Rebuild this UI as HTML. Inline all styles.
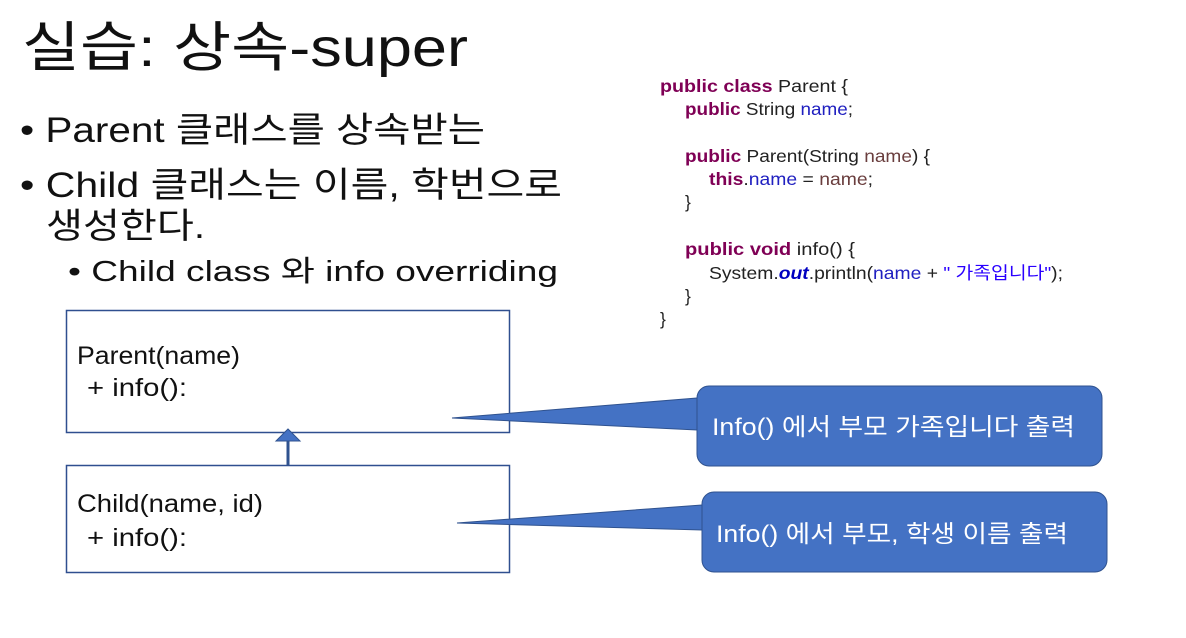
<!DOCTYPE html>
<html><head><meta charset="utf-8"><style>
body{margin:0;width:1186px;height:638px;background:#fff;overflow:hidden}
svg{display:block}
.k{font-family:"Liberation Sans","Noto Sans CJK KR",sans-serif}
</style></head><body>
<svg width="1186" height="638" xmlns="http://www.w3.org/2000/svg">
<rect width="1186" height="638" fill="#fff"/>
<g class="k" fill="#111" lengthAdjust="spacingAndGlyphs">
<text x="22" y="66" font-size="54" textLength="446" lengthAdjust="spacingAndGlyphs">실습: 상속-super</text>
<text x="20" y="142" font-size="35" textLength="465" lengthAdjust="spacingAndGlyphs">• Parent 클래스를 상속받는</text>
<text x="20" y="197" font-size="35" textLength="542" lengthAdjust="spacingAndGlyphs">• Child 클래스는 이름, 학번으로</text>
<text x="46" y="238" font-size="35" textLength="159" lengthAdjust="spacingAndGlyphs">생성한다.</text>
<text x="68" y="281" font-size="29" textLength="490" lengthAdjust="spacingAndGlyphs">•   Child  class 와  info overriding</text>
</g>
<g class="k" font-size="17.5" fill="#222">
<text x="660" y="92" textLength="188" lengthAdjust="spacingAndGlyphs"><tspan fill="#7f0055" font-weight="bold">public class</tspan> Parent {</text>
<text x="685" y="115" textLength="168" lengthAdjust="spacingAndGlyphs"><tspan fill="#7f0055" font-weight="bold">public</tspan> String <tspan fill="#2020c0">name</tspan>;</text>
<text x="685" y="162" textLength="245" lengthAdjust="spacingAndGlyphs"><tspan fill="#7f0055" font-weight="bold">public</tspan> Parent(String <tspan fill="#6a3e3e">name</tspan>) {</text>
<text x="709" y="185" textLength="164" lengthAdjust="spacingAndGlyphs"><tspan fill="#7f0055" font-weight="bold">this</tspan>.<tspan fill="#2020c0">name</tspan> = <tspan fill="#6a3e3e">name</tspan>;</text>
<text x="685" y="208">}</text>
<text x="685" y="255" textLength="170" lengthAdjust="spacingAndGlyphs"><tspan fill="#7f0055" font-weight="bold">public void</tspan> info() {</text>
<text x="709" y="279" textLength="354" lengthAdjust="spacingAndGlyphs">System.<tspan fill="#0000c0" font-weight="bold" font-style="italic">out</tspan>.println(<tspan fill="#2020c0">name</tspan> + <tspan fill="#2a00ff">" 가족입니다"</tspan>);</text>
<text x="685" y="302">}</text>
<text x="660" y="325">}</text>
</g>
<rect x="66.5" y="310.5" width="443" height="122" fill="#fff" stroke="#2f4f8f" stroke-width="1.5"/>
<rect x="66.5" y="465.5" width="443" height="107" fill="#fff" stroke="#2f4f8f" stroke-width="1.5"/>
<line x1="288" y1="465" x2="288" y2="440" stroke="#2f528f" stroke-width="3"/>
<polygon points="276,441 300,441 288,429" fill="#4472c4" stroke="#2f528f"/>
<g class="k" font-size="25" fill="#111">
<text x="77" y="364" textLength="163" lengthAdjust="spacingAndGlyphs">Parent(name)</text>
<text x="87" y="396" textLength="100" lengthAdjust="spacingAndGlyphs">+ info():</text>
<text x="77" y="512" textLength="186" lengthAdjust="spacingAndGlyphs">Child(name, id)</text>
<text x="87" y="546" textLength="100" lengthAdjust="spacingAndGlyphs">+ info():</text>
</g>
<path d="M697,398 L452,418 L697,430 Z" fill="#4472c4" stroke="#2f528f"/>
<rect x="697" y="386" width="405" height="80" rx="12" fill="#4472c4" stroke="#2f528f"/>
<path d="M702,505 L457,523 L702,530 Z" fill="#4472c4" stroke="#2f528f"/>
<rect x="702" y="492" width="405" height="80" rx="12" fill="#4472c4" stroke="#2f528f"/>
<g class="k" font-size="24" fill="#fff">
<text x="712" y="435" textLength="363" lengthAdjust="spacingAndGlyphs">Info() 에서 부모 가족입니다 출력</text>
<text x="716" y="542" textLength="352" lengthAdjust="spacingAndGlyphs">Info() 에서 부모, 학생 이름 출력</text>
</g>
</svg>
</body></html>
